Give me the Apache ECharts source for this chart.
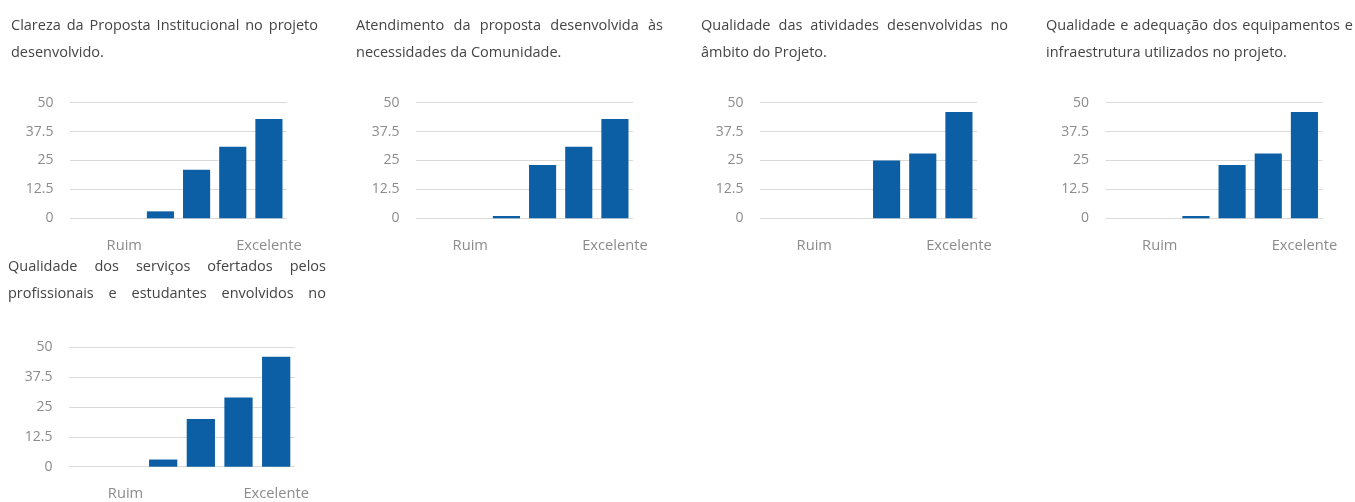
<!DOCTYPE html>
<html>
<head>
<meta charset="utf-8">
<script src="https://cdn.jsdelivr.net/npm/echarts@6/dist/echarts.min.js"></script>
<style>
  html, body { margin: 0; padding: 0; background: #fff; }
  #chart { position: absolute; left: 0; top: 0; width: 1355px; height: 502px; }
  .title {
    position: absolute;
    font-family: 'Open Sans', sans-serif;
    font-size: 14.5px;
    line-height: 27px;
    color: #444;
    text-align: justify;
    height: 54px;
    overflow: hidden;
    z-index: 2;
  }
</style>
</head>
<body>
<div id="chart"></div>
<script>
// Survey questions (one small bar chart per question)
const questions = [
  'Clareza da Proposta Institucional no projeto desenvolvido.',
  'Atendimento da proposta desenvolvida às necessidades da Comunidade.',
  'Qualidade das atividades desenvolvidas no âmbito do Projeto.',
  'Qualidade e adequação dos equipamentos e infraestrutura utilizados no projeto.',
  'Qualidade dos serviços ofertados pelos profissionais e estudantes envolvidos no projeto.'
];

// Rating scale (only the ends are labelled)
const categories = ['', 'Ruim', '', '', '', 'Excelente'];

// Answer counts per rating
const clarezaProposta   = [0, 0, 3, 21, 31, 43];
const atendimento       = [0, 0, 1, 23, 31, 43];
const qualidadeAtiv     = [0, 0, 0, 25, 28, 46];
const qualidadeEquip    = [0, 0, 1, 23, 28, 46];
const qualidadeServicos = [0, 0, 3, 20, 29, 46];

const seriesData = [clarezaProposta, atendimento, qualidadeAtiv, qualidadeEquip, qualidadeServicos];

// Value axis
const yMin = 0, yMax = 50, yStep = 12.5;

// Panel layout: title box and plot area for each question
const panels = [
  { tx: 11,   ty: 11,    tw: 307, grid: { left: 70,     top: 102.7, width: 217, height: 115.6 } },
  { tx: 356,  ty: 11,    tw: 307, grid: { left: 416,    top: 102.7, width: 217, height: 115.6 } },
  { tx: 701,  ty: 11,    tw: 307, grid: { left: 760,    top: 102.7, width: 217, height: 115.6 } },
  { tx: 1046, ty: 11,    tw: 307, grid: { left: 1105.5, top: 102.7, width: 217, height: 115.6 } },
  { tx: 8,    ty: 252.4, tw: 318, grid: { left: 69,     top: 347.3, width: 226, height: 119.4 } }
];

// Title blocks
panels.forEach((p, i) => {
  const d = document.createElement('div');
  d.className = 'title';
  d.style.left = p.tx + 'px';
  d.style.top = p.ty + 'px';
  d.style.width = p.tw + 'px';
  d.textContent = questions[i];
  document.body.appendChild(d);
});

const labelFont = { fontFamily: 'Open Sans', color: '#8c8c8c' };

const option = {
  animation: false,
  grid: panels.map(p => Object.assign({ containLabel: false }, p.grid)),
  xAxis: panels.map((p, i) => ({
    type: 'category',
    gridIndex: i,
    data: categories,
    axisLine: { show: false },
    axisTick: { show: false },
    axisLabel: Object.assign({ interval: 0, fontSize: 14.7, margin: 20 }, labelFont)
  })),
  yAxis: panels.map((p, i) => ({
    type: 'value',
    gridIndex: i,
    min: yMin,
    max: yMax,
    interval: yStep,
    axisLine: { show: false },
    axisTick: { show: false },
    axisLabel: Object.assign({ fontSize: 14, margin: 16.5 }, labelFont),
    splitLine: { show: true, lineStyle: { color: '#dadada', width: 1 } }
  })),
  series: seriesData.map((vals, i) => ({
    type: 'bar',
    xAxisIndex: i,
    yAxisIndex: i,
    data: vals,
    barCategoryGap: '25%',
    itemStyle: { color: '#0c5fa4' }
  }))
};

const chart = echarts.init(document.getElementById('chart'), null, { renderer: 'canvas' });
chart.setOption(option);
</script>
</body>
</html>
